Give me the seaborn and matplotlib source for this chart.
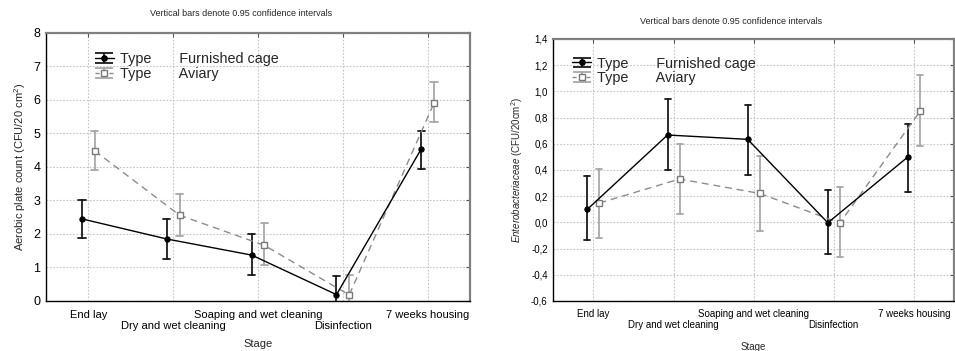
import numpy as np
import pandas as pd
import matplotlib
matplotlib.use("Agg")
import matplotlib.pyplot as plt
import matplotlib.colors as mcolors
from matplotlib.ticker import FuncFormatter, MultipleLocator
from matplotlib.container import ErrorbarContainer
from matplotlib.legend_handler import HandlerErrorbar
import seaborn as sns

# ---------------- data ----------------
stages = ["End lay", "Dry and wet cleaning", "Soaping and wet cleaning",
          "Disinfection", "7 weeks housing"]
types = ["Furnished cage", "Aviary"]

apc_furnished = [2.45, 1.85, 1.37, 0.19, 4.54]
apc_furnished_lo = [1.89, 1.25, 0.77, -0.37, 3.94]
apc_furnished_hi = [3.01, 2.44, 1.99, 0.75, 5.08]
apc_aviary = [4.48, 2.56, 1.66, 0.18, 5.91]
apc_aviary_lo = [3.90, 1.95, 1.06, -0.41, 5.34]
apc_aviary_hi = [5.06, 3.18, 2.34, 0.77, 6.53]

ent_furnished = [0.100, 0.667, 0.634, -0.003, 0.500]
ent_furnished_lo = [-0.135, 0.397, 0.361, -0.244, 0.234]
ent_furnished_hi = [0.351, 0.939, 0.898, 0.244, 0.748]
ent_aviary = [0.148, 0.331, 0.221, -0.005, 0.847]
ent_aviary_lo = [-0.120, 0.061, -0.069, -0.267, 0.583]
ent_aviary_hi = [0.405, 0.595, 0.504, 0.267, 1.127]

title_text = "Vertical bars denote 0.95 confidence intervals"

# ---------------- style ----------------
sns.set_style("white")
plt.rcParams["font.family"] = ["Liberation Sans", "DejaVu Sans"]
plt.rcParams["mathtext.fontset"] = "custom"
plt.rcParams["mathtext.rm"] = "Liberation Sans"
plt.rcParams["mathtext.it"] = "Liberation Sans:italic"

BLACK = "#000000"
GRAY_LINE = "#8c8c8c"
GRAY_ERR = "#a8a8a8"


def long_frame(mf, lf, hf, ma, la, ha):
    rows = []
    for t, (m, lo, hi) in zip(types, [(mf, lf, hf), (ma, la, ha)]):
        for s, a, b, c in zip(stages, lo, m, hi):
            for v in (a, b, c):
                rows.append({"Stage": s, "Type": t, "value": v})
    return pd.DataFrame(rows)


def draw(ax, df, capsize, xtick_fs, ytick_fs, ylim, major, fmt, ylabel,
         label_fs, legend_anchor, pad1, pad2, xlabelpad):
    sns.pointplot(data=df, x="Stage", y="value", hue="Type", order=stages,
                  hue_order=types, estimator="median",
                  errorbar=lambda v: (np.min(v), np.max(v)),
                  palette=[BLACK, GRAY_LINE], markers=["o", "s"],
                  linestyles=["-", "--"], dodge=0.15, capsize=capsize,
                  err_kws={"linewidth": 1.3}, markersize=3.8, linewidth=1.0,
                  legend=False, ax=ax)
    for ln in ax.lines:
        col = mcolors.to_hex(ln.get_color())
        if ln.get_marker() == "s":
            ln.set_markerfacecolor("white")
            ln.set_markeredgecolor("#7a7a7a")
            ln.set_markeredgewidth(1.0)
            ln.set_dashes([5, 3.5])
            ln.set_zorder(3)
        elif ln.get_marker() == "o":
            ln.set_zorder(4)
        else:
            if col == GRAY_LINE:
                ln.set_color(GRAY_ERR)
            else:
                ln.set_color("#1a1a1a")

    ax.set_xlim(-0.5, 4.5)
    ax.set_ylim(*ylim)
    ax.yaxis.set_major_locator(MultipleLocator(major))
    ax.yaxis.set_major_formatter(fmt)
    even = [i for i in range(len(stages)) if i % 2 == 0]
    odd = [i for i in range(len(stages)) if i % 2 == 1]
    ax.set_xticks(even)
    ax.set_xticklabels([stages[i] for i in even], fontsize=xtick_fs)
    ax.set_xticks(odd, minor=True)
    ax.set_xticklabels([stages[i] for i in odd], minor=True, fontsize=xtick_fs)
    ax.tick_params(axis="y", labelsize=ytick_fs)
    ax.tick_params(axis="both", which="both", direction="in", length=3,
                   width=0.8, top=True, right=True, colors="#555555",
                   labelcolor="black")
    ax.tick_params(axis="y", which="minor", left=False, right=False)
    ax.tick_params(axis="x", which="major", pad=pad1)
    ax.tick_params(axis="x", which="minor", pad=pad2)
    ax.tick_params(axis="y", pad=4)
    ax.grid(True, which="both", axis="x", linestyle=(0, (1.5, 1.5)),
            color="#c4c4c4", linewidth=0.8)
    ax.grid(True, which="major", axis="y", linestyle=(0, (1.5, 1.5)),
            color="#c4c4c4", linewidth=0.8)
    ax.set_axisbelow(True)
    for side in ("left", "bottom"):
        ax.spines[side].set_color("black")
        ax.spines[side].set_linewidth(1.0)
    for side in ("top", "right"):
        ax.spines[side].set_color("#808080")
        ax.spines[side].set_linewidth(1.6)
    ax.set_xlabel("Stage", fontsize=label_fs, labelpad=xlabelpad)
    ax.set_ylabel(ylabel, fontsize=label_fs, labelpad=4)

    h1 = ax.errorbar([np.nan], [np.nan], yerr=[1], fmt="-o", color=BLACK,
                     ecolor="#1a1a1a", ms=3.8, lw=1.0, elinewidth=1.3,
                     capsize=6.8, capthick=1.3)
    h2 = ax.errorbar([np.nan], [np.nan], yerr=[1], fmt="--s", color=GRAY_LINE,
                     ecolor=GRAY_ERR, ms=3.8, mfc="white", mec="#7a7a7a",
                     lw=1.0, elinewidth=1.3, capsize=6.8, capthick=1.3)
    h2.lines[0].set_dashes([3, 2])
    ax.legend([h1, h2], ["Type       Furnished cage", "Type       Aviary"],
              loc="upper left", bbox_to_anchor=legend_anchor, frameon=False,
              fontsize=10.4, borderpad=0, borderaxespad=0, handlelength=1.3,
              handletextpad=0.45, labelspacing=0.05,
              handler_map={ErrorbarContainer: HandlerErrorbar(yerr_size=0.34)})


fig = plt.figure(figsize=(9.55, 3.51), dpi=100)
ax1 = fig.add_axes([0.0482, 0.1425, 0.444, 0.7635])
ax2 = fig.add_axes([0.5794, 0.1425, 0.4196, 0.7464])

df1 = long_frame(apc_furnished, apc_furnished_lo, apc_furnished_hi,
                 apc_aviary, apc_aviary_lo, apc_aviary_hi)
df2 = long_frame(ent_furnished, ent_furnished_lo, ent_furnished_hi,
                 ent_aviary, ent_aviary_lo, ent_aviary_hi)

draw(ax1, df1, 0.085, 8, 9, (0, 8), 1, FuncFormatter(lambda v, p: f"{v:.0f}"),
     "Aerobic plate count (CFU/20 cm$^2$)", 8, (0.115, 0.928), 6.5, 14.5, 5.5)
draw(ax2, df2, 0.075, 7, 7, (-0.6, 1.4), 0.2,
     FuncFormatter(lambda v, p: f"{v:.1f}".replace(".", ",").replace("-0,0", "0,0")),
     r"$\it{Enterobacteriaceae}$ (CFU/20cm$^2$)", 7, (0.047, 0.933), 5.5, 14, 8)

fig.text(241 / 955, 1 - 14 / 351, title_text, ha="center", va="center",
         fontsize=6.5)
fig.text(731 / 955, 1 - 22 / 351, title_text, ha="center", va="center",
         fontsize=6.5)

fig.savefig("out.png", dpi=100)
